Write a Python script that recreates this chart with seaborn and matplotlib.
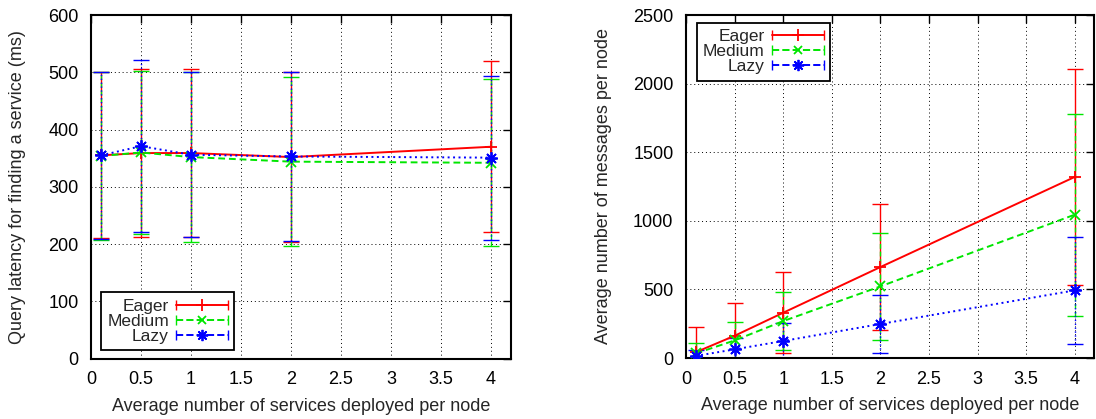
import matplotlib
matplotlib.use("Agg")
import matplotlib.pyplot as plt
import numpy as np
import seaborn as sns
from matplotlib.lines import Line2D
from matplotlib.legend_handler import HandlerBase

# Average number of services deployed per node
services = [0.1, 0.5, 1, 2, 4]
schemes = ["Eager", "Medium", "Lazy"]

# Query latency (ms): mean and standard deviation
eager_latency = [355, 359, 359, 352, 370]
eager_latency_sd = [145, 147, 147, 148, 149]
medium_latency = [354, 360, 352, 344, 342]
medium_latency_sd = [146, 143, 148, 147, 146]
lazy_latency = [355, 371, 356, 353, 351]
lazy_latency_sd = [146, 150, 144, 147, 143]

# Messages per node: mean and standard deviation
eager_messages = [42, 162, 330, 663, 1320]
eager_messages_sd = [186, 237, 295, 458, 790]
medium_messages = [33, 128, 269, 522, 1045]
medium_messages_sd = [74, 137, 211, 388, 736]
lazy_messages = [15, 63, 124, 248, 493]
lazy_messages_sd = [40, 85, 129, 214, 390]

x_ticks = [0, 0.5, 1, 1.5, 2, 2.5, 3, 3.5, 4]
x_tick_labels = ["0", "0.5", "1", "1.5", "2", "2.5", "3", "3.5", "4"]
latency_ticks = [0, 100, 200, 300, 400, 500, 600]
message_ticks = [0, 500, 1000, 1500, 2000, 2500]

sns.set_theme(style="white")
plt.rcParams["font.family"] = ["Liberation Sans", "DejaVu Sans"]
plt.rcParams["axes.unicode_minus"] = False

FS = 13
LEG_FS = 12.5
CAP = 5.5
styles = {
    "Eager": dict(color="#ff0000", ls="-", marker="+", ms=9),
    "Medium": dict(color="#00e600", ls=(0, (3.5, 2)), marker="x", ms=7),
    "Lazy": dict(color="#0000ff", ls=(0, (1, 1.8)), marker=(8, 2, 0), ms=9),
}


class KeyHandler(HandlerBase):
    """Legend key: line sample with end caps and the point marker centred."""

    def create_artists(self, legend, orig_handle, xdescent, ydescent,
                       width, height, fontsize, trans):
        y = height / 2.0 - ydescent
        x0, x1 = -xdescent, width - xdescent
        c = orig_handle.get_color()
        line = Line2D([x0, x1], [y, y], color=c,
                      linestyle=orig_handle.get_linestyle(),
                      linewidth=orig_handle.get_linewidth())
        caps = Line2D([x0, x1], [y, y], linestyle="none", marker="|",
                      markersize=7, markeredgewidth=1.0, color=c)
        mark = Line2D([(x0 + x1) / 2], [y], linestyle="none",
                      marker=orig_handle.get_marker(),
                      markersize=orig_handle.get_markersize() * 0.9,
                      markeredgewidth=orig_handle.get_markeredgewidth(),
                      color=c, markeredgecolor=c)
        for a in (line, caps, mark):
            a.set_transform(trans)
        return [line, caps, mark]


def draw_panel(ax, means, sds, ylim, yticks, ylabel, legend_loc, legend_anchor,
               ylabel_x):
    handles = []
    for name, mean, sd in zip(schemes, means, sds):
        st = styles[name]
        sns.lineplot(x=services, y=mean, ax=ax, color=st["color"],
                     linestyle=st["ls"], linewidth=1.4, marker=st["marker"],
                     markersize=st["ms"], markeredgewidth=1.3,
                     markeredgecolor=st["color"], zorder=3)
        line = ax.lines[-1]
        handles.append(line)
        eb = ax.errorbar(services, mean, yerr=sd, fmt="none",
                         ecolor=st["color"], elinewidth=1.0, capsize=CAP,
                         capthick=1.0, zorder=2)
        eb[2][0].set_linestyle(st["ls"] if st["ls"] != "-" else "solid")

    ax.set_xlim(0, 4.2)
    ax.set_ylim(*ylim)
    ax.set_xticks(x_ticks)
    ax.set_xticklabels(x_tick_labels)
    ax.set_yticks(yticks)
    ax.set_yticklabels([str(t) for t in yticks])
    ax.grid(True, color="black", linestyle=(0, (1, 3)), linewidth=0.7)
    ax.set_axisbelow(True)
    ax.tick_params(direction="in", length=6, width=1.0, top=True, right=True,
                   labelsize=FS, pad=9, colors="black")
    for sp in ax.spines.values():
        sp.set_color("black")
        sp.set_linewidth(1.5)
        sp.set_visible(True)

    ax.set_xlabel("Average number of services deployed per node",
                  fontsize=FS, va="center")
    ax.xaxis.set_label_coords(0.5, -0.138)
    ax.set_ylabel(ylabel, fontsize=FS, va="center")
    ax.yaxis.set_label_coords(ylabel_x, 0.5)

    leg = ax.legend(handles, schemes, loc=legend_loc,
                    bbox_to_anchor=legend_anchor, borderaxespad=0,
                    handler_map={Line2D: KeyHandler()}, markerfirst=False,
                    fontsize=LEG_FS, frameon=True, fancybox=False,
                    handlelength=3.0, handletextpad=0.4, labelspacing=0.0,
                    borderpad=0.35, framealpha=1)
    leg.get_frame().set_edgecolor("black")
    leg.get_frame().set_linewidth(1.3)
    leg.set_zorder(5)


fig = plt.figure(figsize=(10.96, 4.19), dpi=100)
ax1 = fig.add_axes([91 / 1096, (419 - 358.7) / 419, 420 / 1096, 343.7 / 419])
ax2 = fig.add_axes([686 / 1096, (419 - 358) / 419, 408.3 / 1096, 343 / 419])

draw_panel(ax1,
           [eager_latency, medium_latency, lazy_latency],
           [eager_latency_sd, medium_latency_sd, lazy_latency_sd],
           (0, 600), latency_ticks,
           "Query latency for finding a service (ms)",
           "lower left", (0.024, 0.025), -0.174)

draw_panel(ax2,
           [eager_messages, medium_messages, lazy_messages],
           [eager_messages_sd, medium_messages_sd, lazy_messages_sd],
           (0, 2500), message_ticks,
           "Average number of messages per node",
           "upper left", (0.027, 0.977), -0.202)

fig.savefig("out.png", dpi=100, facecolor="white")
